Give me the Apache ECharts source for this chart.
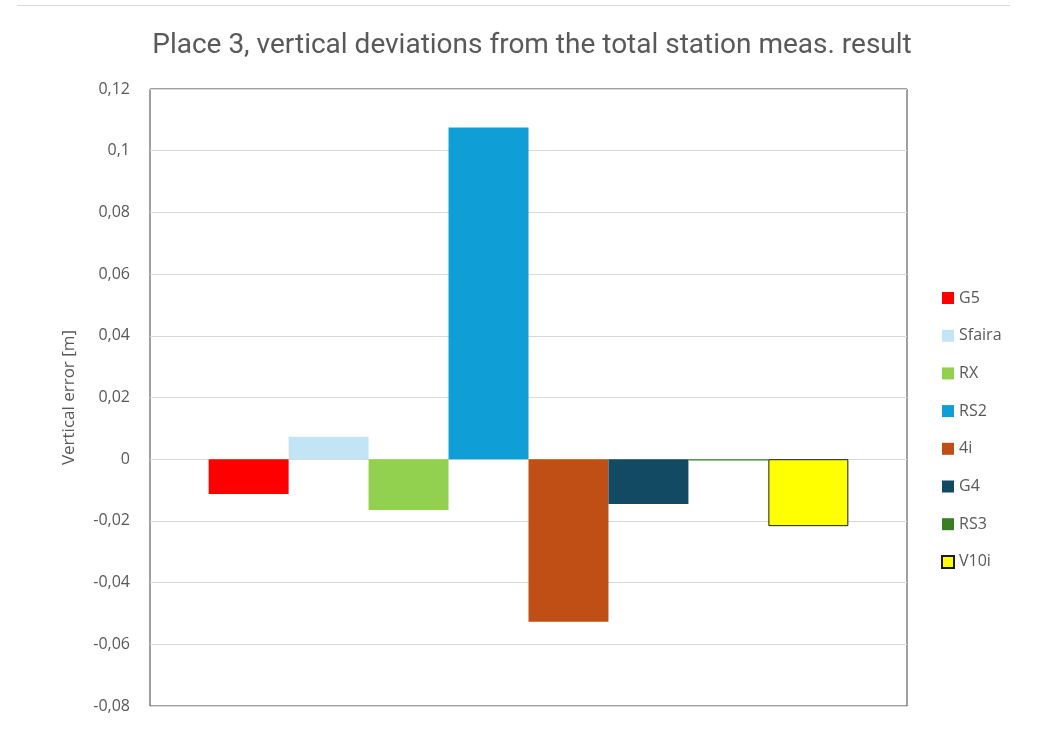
<!DOCTYPE html>
<html>
<head>
<meta charset="utf-8">
<script src="https://cdn.jsdelivr.net/npm/echarts@6/dist/echarts.min.js"></script>
<style>
  html, body { margin: 0; padding: 0; background: #fff; }
  #echarts { width: 1043px; height: 731px; }
</style>
</head>
<body>
<div id="echarts"></div>
<script>
// Dados
var categorias = ['Place 3'];
var nomesSeries = ['G5', 'Sfaira', 'RX', 'RS2', '4i', 'G4', 'RS3', 'V10i'];
var valores = [-0.0113, 0.0073, -0.0165, 0.1075, -0.0527, -0.0145, -0.0004, -0.0217];
var cores = ['#ff0000', '#c3e4f4', '#92d050', '#0f9ed5', '#c04f15', '#124a64', '#3b7d23', '#ffff00'];

var chart = echarts.init(document.getElementById('echarts'));

var series = nomesSeries.map(function (nome, i) {
    return {
        name: nome,
        type: 'bar',
        barGap: '0%',
        barCategoryGap: '15.5%',
        itemStyle: {
            color: cores[i],
            borderColor: nome === 'V10i' ? '#1a1a1a' : cores[i],
            borderWidth: nome === 'V10i' ? 1 : 0
        },
        data: [valores[i]]
    };
});

var options = {
    backgroundColor: '#ffffff',
    animation: false,
    title: {
        text: 'Place 3, vertical deviations from the total station meas. result',
        left: 527,
        textAlign: 'center',
        top: 27,
        textStyle: {
            fontFamily: 'Roboto',
            fontSize: 28,
            fontWeight: 'normal',
            color: '#595959'
        }
    },
    legend: {
        orient: 'vertical',
        left: 936,
        top: 285,
        itemWidth: 12,
        itemHeight: 12,
        itemGap: 21.7,
        textStyle: {
            fontFamily: 'Open Sans',
            fontSize: 16,
            color: '#595959'
        },
        data: nomesSeries.map(function (n) {
            return { name: n, icon: 'rect' };
        })
    },
    grid: {
        left: 150,
        right: 136,
        top: 89,
        bottom: 25,
        show: true,
        borderColor: '#404040',
        borderWidth: 1
    },
    xAxis: {
        type: 'category',
        data: categorias,
        axisLine: { show: false },
        axisTick: { show: false },
        axisLabel: { show: false }
    },
    yAxis: {
        type: 'value',
        min: -0.08,
        max: 0.12,
        interval: 0.02,
        name: 'Vertical error [m]',
        nameLocation: 'middle',
        nameGap: 72,
        nameTextStyle: {
            fontFamily: 'Open Sans',
            fontSize: 17,
            color: '#595959'
        },
        axisLine: { show: false },
        axisTick: { show: false },
        axisLabel: {
            fontFamily: 'Open Sans',
            fontSize: 16,
            color: '#595959',
            margin: 20,
            formatter: function (v) {
                var s = String(parseFloat(v.toFixed(2)));
                return s.replace('.', ',');
            }
        },
        splitLine: { lineStyle: { color: '#d9d9d9', width: 1 } }
    },
    graphic: [
        {
            type: 'line',
            shape: { x1: 17, y1: 5.5, x2: 1010, y2: 5.5 },
            style: { stroke: '#d9d9d9', lineWidth: 1 },
            silent: true
        }
    ],
    series: series
};

chart.setOption(options);
</script>
</body>
</html>
